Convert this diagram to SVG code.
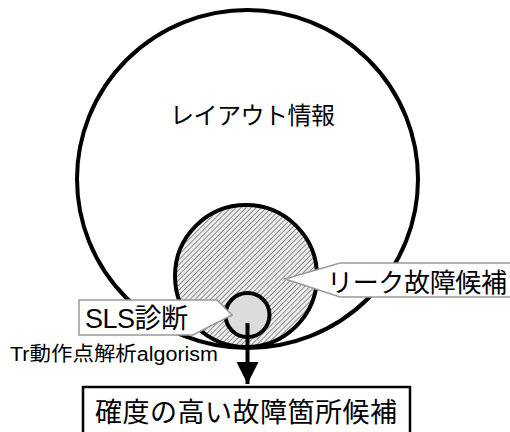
<svg xmlns="http://www.w3.org/2000/svg" width="510" height="432" viewBox="0 0 510 432">
<defs>
<pattern id="hatch" patternUnits="userSpaceOnUse" width="3.6" height="3.6" patternTransform="rotate(45)">
<rect width="3.6" height="3.6" fill="#eeeeee"/>
<line x1="0" y1="0" x2="0" y2="3.6" stroke="#6e6e6e" stroke-width="1.5"/>
</pattern>
<marker id="arrow" markerUnits="userSpaceOnUse" markerWidth="24" markerHeight="22" refX="22" refY="11" orient="auto">
<path d="M0,0 L22,11 L0,22 Z" fill="#000"/>
</marker>
</defs>
<style>
text{font-family:"Liberation Sans","Noto Sans CJK JP",sans-serif;fill:#000}
.ring{stroke:#000;stroke-width:4}
.callout{fill:#fff;stroke:#999;stroke-width:1.5}
</style>
<g id="layout">
<ellipse class="ring" cx="247.5" cy="179" rx="170.5" ry="169" fill="none"/>
<text x="170" y="124" font-size="24" textLength="165">レイアウト情報</text>
</g>
<g id="leak">
<circle class="ring" cx="246" cy="276" r="71" fill="url(#hatch)" stroke-width="3.5"/>
</g>
<g id="sls">
<circle class="ring" cx="247.5" cy="315" r="22" fill="#dcdcdc" stroke-width="3.5"/>
</g>
<g id="leak-label">
<polygon class="callout" points="285,279 340,263 512,263 512,297 340,297"/>
<text x="327" y="292" font-size="26" textLength="180">リーク故障候補</text>
</g>
<g id="sls-label">
<polygon class="callout" points="79,300 217,300 232,315 193,335 79,335"/>
<text x="85" y="328" font-size="27" textLength="103">SLS診断</text>
</g>
<g id="tr-label">
<text x="10" y="361" font-size="20" textLength="208" lengthAdjust="spacingAndGlyphs">Tr動作点解析algorism</text>
</g>
<g id="connectors">
<line x1="247.5" y1="323" x2="247.5" y2="384" stroke="#000" stroke-width="4" marker-end="url(#arrow)"/>
</g>
<g id="result">
<rect x="83" y="387" width="327" height="60" fill="#fff" stroke="#000" stroke-width="2.5"/>
<text x="95" y="422" font-size="27" textLength="302">確度の高い故障箇所候補</text>
</g>
</svg>
